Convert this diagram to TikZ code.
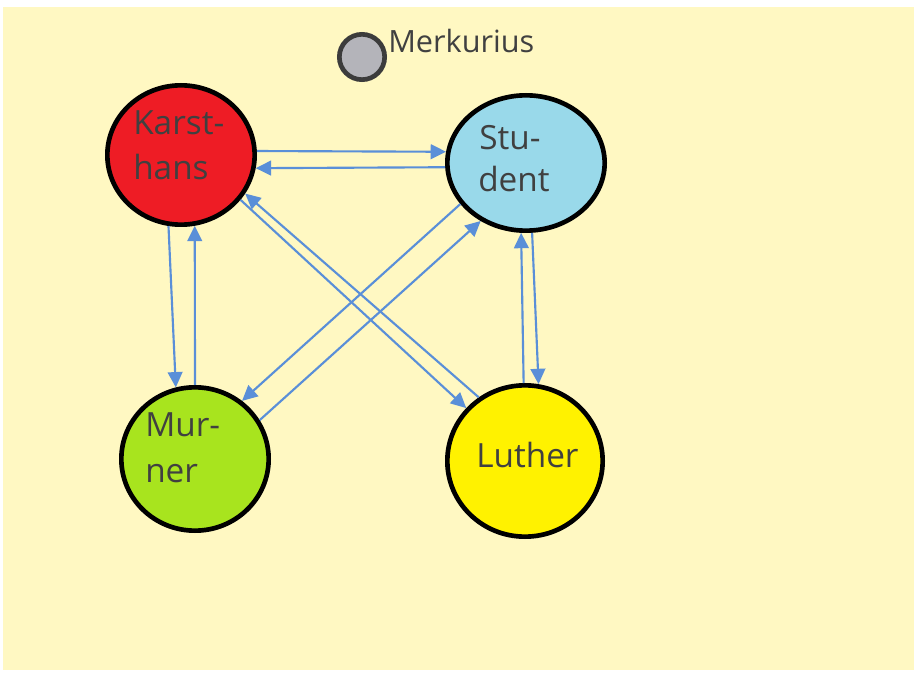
\documentclass[tikz,border=0pt]{standalone}
\usepackage{fontspec}
\setmainfont{Open Sans}
\usetikzlibrary{shapes.geometric,arrows.meta}

\definecolor{paper}{HTML}{FFF8C2}
\definecolor{arrowblue}{HTML}{5A8FD8}
\definecolor{inkgray}{HTML}{404040}
\definecolor{redfill}{HTML}{EE1C25}
\definecolor{bluefill}{HTML}{99D9EA}
\definecolor{limefill}{HTML}{A8E41E}
\definecolor{yellowfill}{HTML}{FFF200}
\definecolor{planetgray}{HTML}{B4B4BA}
\definecolor{planetrim}{HTML}{3C3C3C}

\tikzset{
  person/.style={ellipse, draw=black, line width=3.5pt, inner sep=0pt},
  lbl/.style={text=inkgray, inner sep=0pt, anchor=base west, font=\fontsize{25}{30}\selectfont},
  conn/.style={draw=arrowblue, line width=1.6pt, -{Triangle[length=11.5pt,width=11pt]}},
}

\begin{document}
\begin{tikzpicture}[x=0.75pt,y=-0.75pt]
\useasboundingbox (0,0) rectangle (914,673);
\fill[white] (0,0) rectangle (914,673);
\fill[paper] (3,7) rectangle (914,670);

% the four characters
\node[person, fill=redfill, minimum width=110.5pt, minimum height=104.5pt] (ks) at (181,155) {};
\node[person, fill=bluefill, minimum width=118pt, minimum height=101.5pt] (st) at (526,163) {};
\node[person, fill=limefill, minimum width=110.5pt, minimum height=107.5pt] (mu) at (195,459) {};
\node[person, fill=yellowfill, minimum width=116.5pt, minimum height=113.5pt] (lu) at (525,461) {};

% Merkurius
\node[circle, fill=planetgray, draw=planetrim, line width=3.5pt, inner sep=0pt, minimum size=34pt] (me) at (362,57) {};
\node[lbl, font=\fontsize{23}{27}\selectfont] (me-txt) at (388,53) {Merkurius};

% names
\node[lbl] (ks-a) at (133,135) {Karst-};
\node[lbl] (ks-b) at (133,180) {hans};
\node[lbl] (st-a) at (479,150) {Stu-};
\node[lbl] (st-b) at (478,192) {dent};
\node[lbl] (mu-a) at (145,437) {Mur-};
\node[lbl] (mu-b) at (145,482) {ner};
\node[lbl] (lu-a) at (476,468) {Luther};

% relations
\draw[conn] (ks.3) -- (st.172);
\draw[conn] (st.183) -- (ks.350);
\draw[conn] (ks.260) -- (mu.105);
\draw[conn] (mu.90) -- (ks.281);
\draw[conn] (st.212) -- (mu.51);
\draw[conn] (mu.31) -- (st.232);
\draw[conn] (ks.323) -- (lu.138);
\draw[conn] (lu.126) -- (ks.329);
\draw[conn] (lu.91) -- (st.266);
\draw[conn] (st.275) -- (lu.80);
\end{tikzpicture}
\end{document}
